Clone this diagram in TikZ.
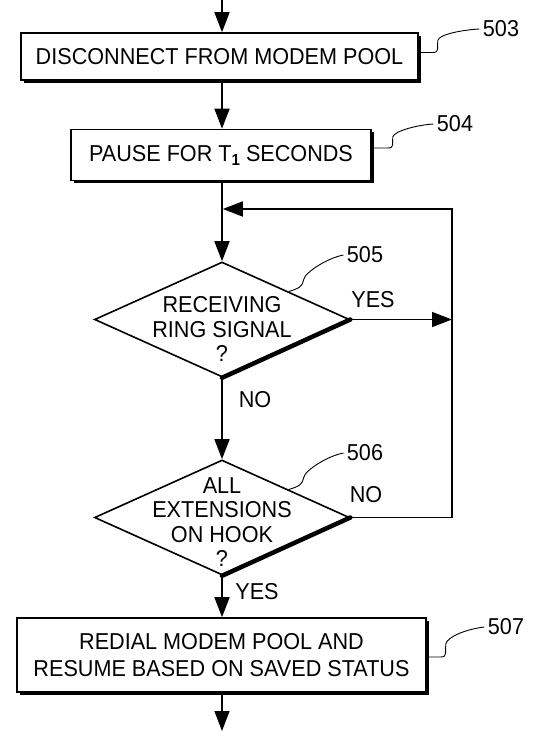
\documentclass[tikz,border=0pt]{standalone}
\usepackage{fontspec}
\setmainfont{Liberation Sans}[FakeStretch=0.94]
\usetikzlibrary{calc, shapes.geometric, shadows, arrows.meta}
\tikzset{
	stepbox/.style={
			rectangle,
			draw=black,
			line width=1.6pt,
			fill=white,
			align=center,
			inner sep=0pt,
			font=\fontsize{23}{27}\selectfont,
			drop shadow={shadow xshift=2.8pt, shadow yshift=-2.8pt, fill=black, opacity=1}
		},
	decision/.style={
			diamond,
			draw=black,
			line width=1.6pt,
			fill=white,
			inner sep=0pt,
			minimum width=255pt,
			minimum height=115pt
		},
	decisiontext/.style={
			align=center,
			inner sep=0pt,
			font=\fontsize{23}{24.5}\selectfont
		},
	tag/.style={
			font=\fontsize{23}{24}\selectfont
		},
	refnum/.style={
			font=\fontsize{23}{24}\selectfont
		},
	flow/.style={
			line width=1.6pt,
			-{Triangle[length=20pt,width=15pt]}
		},
	leader/.style={
			line width=0.9pt
		}
}

\begin{document}
\begin{tikzpicture}[x=1pt, y=-1pt]
\fill[white] (0,0) rectangle (541,731);
\useasboundingbox (0,0) rectangle (541,731);

\coordinate (entry) at (222,0);
\coordinate (exit) at (222,731);
\coordinate (loopTop) at (452,209);
\coordinate (join) at (222,209);

% steps and decisions
\node[stepbox, minimum width=397pt, minimum height=47pt] (sDisc) at (219.5,56.5) {DISCONNECT FROM MODEM POOL};
\node[stepbox, minimum width=300pt, minimum height=51pt] (sPause) at (221,155) {PAUSE FOR T{\raisebox{-4pt}{\fontsize{16}{16}\selectfont\bfseries 1}} SECONDS};
\node[decision] (dRing) at (222,319.5) {};
\node[decisiontext] (tRing) at (222,329) {RECEIVING\\RING SIGNAL\\?};
\node[decision] (dHook) at (222,517.5) {};
\node[decisiontext] (tHook) at (222,522) {ALL\\EXTENSIONS\\ON HOOK\\?};
\node[stepbox, minimum width=409pt, minimum height=74pt] (sRedial) at (221.5,655) {REDIAL MODEM POOL AND\\RESUME BASED ON SAVED STATUS};

% shaded edges of the diamonds
\draw[line width=4.5pt, line cap=round] (dRing.east) -- (dRing.south);
\draw[line width=4.5pt, line cap=round] (dHook.east) -- (dHook.south);

% main flow
\draw[flow] (entry) -- (sDisc.north -| entry);
\draw[flow] (sDisc.south -| entry) -- (sPause.north -| entry);
\draw[flow] (sPause.south -| entry) -- (dRing.north);
\draw[flow] (dRing.south) -- (dHook.north);
\draw[flow] (dHook.south) -- (sRedial.north -| entry);
\draw[flow] (sRedial.south -| entry) -- (exit);

% branches and loop back
\draw[flow] (dRing.east) -- (dRing.east -| loopTop);
\draw[flow, shorten >=0.8pt] (dHook.east) -| (loopTop) -- (join);

\node[tag] (yRing) at (373,300) {YES};
\node[tag] (nRing) at (255,400) {NO};
\node[tag] (nHook) at (366,495) {NO};
\node[tag] (yHook) at (257,592) {YES};

% reference numerals
\node[refnum] (r503) at (501,29) {503};
\node[refnum] (r504) at (455,124) {504};
\node[refnum] (r505) at (365,255) {505};
\node[refnum] (r506) at (365,453) {506};
\node[refnum] (r507) at (506,627) {507};

\draw[leader] ([yshift=4pt]sDisc.east) -- ++(14,0) .. controls +(7,0) and +(-1,7) .. ++(5,-12) .. controls +(1,-6) and +(-18,1) .. (r503.west);
\draw[leader] ([yshift=7pt]sPause.east) -- ++(16,0) .. controls +(7,0) and +(-1,7) .. ++(5,-11) .. controls +(1,-6) and +(-16,1) .. (r504.west);
\draw[leader] ($(dRing.north)!0.52!(dRing.east)$) .. controls +(10,-3) and +(-1,7) .. ++(15,-12) .. controls +(1,-7) and +(-16,3) .. (r505.west);
\draw[leader] ($(dHook.north)!0.52!(dHook.east)$) .. controls +(10,-3) and +(-1,7) .. ++(15,-12) .. controls +(1,-7) and +(-16,3) .. (r506.west);
\draw[leader] ([yshift=-2pt]sRedial.east) -- ++(14,0) .. controls +(7,0) and +(-1,7) .. ++(5,-13) .. controls +(1,-7) and +(-18,2) .. (r507.west);

\end{tikzpicture}
\end{document}
